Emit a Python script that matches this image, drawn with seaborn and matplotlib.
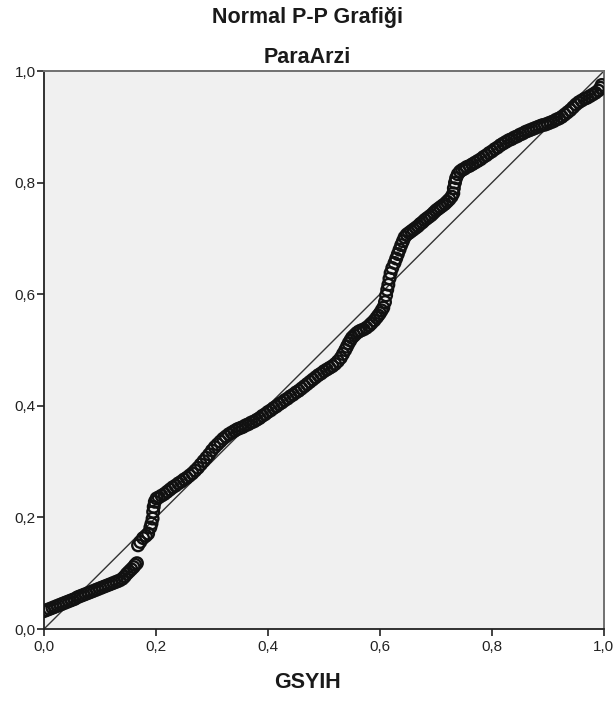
import matplotlib
matplotlib.use("Agg")
import matplotlib.pyplot as plt
import seaborn as sns
import pandas as pd

observed = [
    0.000, 0.005, 0.010, 0.015, 0.020, 0.025, 0.030, 0.035, 0.040, 0.045,
    0.050, 0.055, 0.060, 0.065, 0.070, 0.075, 0.080, 0.085, 0.090, 0.095,
    0.100, 0.105, 0.110, 0.115, 0.120, 0.125, 0.130, 0.135, 0.140, 0.144,
    0.148, 0.152, 0.156, 0.160, 0.163, 0.166,
    0.168, 0.172, 0.177, 0.182, 0.186, 0.190, 0.192, 0.194, 0.195, 0.196, 0.198,
    0.201, 0.205, 0.210, 0.215, 0.220, 0.225, 0.230, 0.235, 0.240, 0.245,
    0.250, 0.255, 0.260, 0.265, 0.270, 0.275, 0.280, 0.285, 0.290, 0.295,
    0.300, 0.305, 0.310, 0.315, 0.320, 0.325, 0.330, 0.335, 0.340, 0.345,
    0.350, 0.355, 0.360, 0.365, 0.370, 0.375, 0.380, 0.385, 0.390, 0.395,
    0.400, 0.405, 0.410, 0.415, 0.420, 0.425, 0.430, 0.435, 0.440, 0.445,
    0.450, 0.455, 0.460, 0.465, 0.470, 0.475, 0.480, 0.485, 0.490, 0.495,
    0.500, 0.505, 0.510, 0.515, 0.520, 0.525, 0.530, 0.534, 0.538, 0.541,
    0.544, 0.547, 0.550, 0.554, 0.558, 0.562, 0.566, 0.571, 0.576, 0.581,
    0.585, 0.590, 0.594, 0.597, 0.600, 0.603, 0.606,
    0.609, 0.611, 0.613, 0.615, 0.617, 0.619, 0.622, 0.626, 0.629, 0.632,
    0.635, 0.638, 0.641, 0.644,
    0.648, 0.652, 0.656, 0.660, 0.664, 0.668, 0.672, 0.676, 0.680, 0.684,
    0.688, 0.692, 0.696, 0.700, 0.704, 0.708, 0.712, 0.716, 0.720, 0.724,
    0.728, 0.731,
    0.732, 0.734, 0.736, 0.739,
    0.743, 0.747, 0.751, 0.755, 0.760, 0.765, 0.770, 0.775, 0.780, 0.785,
    0.790, 0.795, 0.800, 0.805, 0.810, 0.815, 0.820, 0.825, 0.830, 0.835,
    0.840, 0.845, 0.850, 0.855, 0.860, 0.865, 0.870, 0.875, 0.880, 0.885,
    0.890, 0.895, 0.900, 0.905, 0.910, 0.915, 0.920, 0.925, 0.930, 0.935,
    0.940, 0.945, 0.950, 0.955, 0.960, 0.965, 0.970, 0.975, 0.980, 0.985,
    0.990, 0.994, 0.996,
]
expected = [
    0.032, 0.034, 0.036, 0.038, 0.040, 0.042, 0.044, 0.046, 0.048, 0.050,
    0.052, 0.054, 0.057, 0.059, 0.061, 0.063, 0.065, 0.067, 0.069, 0.071,
    0.073, 0.075, 0.077, 0.079, 0.081, 0.083, 0.085, 0.087, 0.090, 0.094,
    0.099, 0.103, 0.107, 0.111, 0.115, 0.118,
    0.150, 0.156, 0.163, 0.167, 0.171, 0.182, 0.189, 0.198, 0.210, 0.219, 0.228,
    0.234, 0.236, 0.239, 0.242, 0.246, 0.250, 0.254, 0.257, 0.261, 0.264,
    0.268, 0.271, 0.275, 0.279, 0.284, 0.289, 0.295, 0.301, 0.307, 0.313,
    0.320, 0.326, 0.331, 0.336, 0.341, 0.345, 0.349, 0.352, 0.355, 0.358,
    0.360, 0.362, 0.365, 0.367, 0.370, 0.372, 0.375, 0.378, 0.382, 0.385,
    0.389, 0.392, 0.396, 0.399, 0.403, 0.406, 0.410, 0.413, 0.417, 0.420,
    0.424, 0.427, 0.431, 0.435, 0.439, 0.443, 0.447, 0.451, 0.455, 0.458,
    0.462, 0.465, 0.468, 0.471, 0.475, 0.480, 0.486, 0.493, 0.500, 0.506,
    0.512, 0.517, 0.522, 0.526, 0.530, 0.533, 0.535, 0.537, 0.540, 0.544,
    0.548, 0.553, 0.558, 0.562, 0.566, 0.571, 0.576,
    0.586, 0.598, 0.608, 0.617, 0.628, 0.638, 0.647, 0.656, 0.664, 0.672,
    0.680, 0.688, 0.695, 0.702,
    0.707, 0.710, 0.713, 0.716, 0.719, 0.722, 0.726, 0.729, 0.733, 0.736,
    0.739, 0.742, 0.746, 0.750, 0.753, 0.756, 0.759, 0.762, 0.766, 0.770,
    0.775, 0.781,
    0.790, 0.800, 0.808, 0.815,
    0.820, 0.823, 0.825, 0.828, 0.830, 0.833, 0.836, 0.839, 0.842, 0.846,
    0.849, 0.853, 0.856, 0.860, 0.863, 0.867, 0.870, 0.873, 0.876, 0.878,
    0.881, 0.883, 0.886, 0.888, 0.891, 0.893, 0.895, 0.897, 0.899, 0.901,
    0.903, 0.904, 0.906, 0.908, 0.910, 0.913, 0.915, 0.918, 0.922, 0.926,
    0.930, 0.935, 0.940, 0.944, 0.947, 0.950, 0.952, 0.955, 0.958, 0.961,
    0.965, 0.970, 0.975,
]

ref_line = [0.0, 1.0]
ticks = [0.0, 0.2, 0.4, 0.6, 0.8, 1.0]
tick_labels = ["0,0", "0,2", "0,4", "0,6", "0,8", "1,0"]

df = pd.DataFrame({"GSYIH": observed, "ParaArzi": expected})

sns.set_style("white", {"axes.facecolor": "#F0F0F0"})
plt.rcParams["font.family"] = ["Liberation Sans", "DejaVu Sans"]

fig = plt.figure(figsize=(6.15, 7.04), dpi=100)
ax = fig.add_axes([0.0715, 0.1065, 0.9105, 0.7926])

ax.plot(ref_line, ref_line, color="#333333", linewidth=1.0, zorder=2)
sns.scatterplot(data=df, x="GSYIH", y="ParaArzi", ax=ax, marker="o", s=70,
                facecolor="none", edgecolor="#111111", linewidth=1.7, zorder=3)

ax.set_xlim(0, 1)
ax.set_ylim(0, 1)
ax.set_xticks(ticks)
ax.set_xticklabels(tick_labels, fontsize=11, color="#222222")
ax.set_yticks(ticks)
ax.set_yticklabels(tick_labels, fontsize=11, color="#222222")
ax.tick_params(axis="x", direction="out", length=5, width=1.2, color="#222222",
               bottom=True, pad=3)
ax.tick_params(axis="y", direction="out", length=5, width=1.2, color="#222222",
               left=True, pad=1)

for side in ["left", "bottom"]:
    ax.spines[side].set_color("#222222")
    ax.spines[side].set_linewidth(1.3)
for side in ["top", "right"]:
    ax.spines[side].set_color("#707070")
    ax.spines[side].set_linewidth(1.4)

ax.set_xlabel("")
ax.set_ylabel("")

fig.text(0.5, 0.975, "Normal P-P Grafiği", ha="center", va="center",
         fontsize=15.5, fontweight="bold", color="#1a1a1a")
fig.text(0.5, 0.918, "ParaArzi", ha="center", va="center",
         fontsize=15.5, fontweight="bold", color="#1a1a1a")
fig.text(0.5, 0.031, "GSYIH", ha="center", va="center",
         fontsize=15.5, fontweight="bold", color="#1a1a1a")

fig.savefig("out.png", dpi=100, facecolor="white")
